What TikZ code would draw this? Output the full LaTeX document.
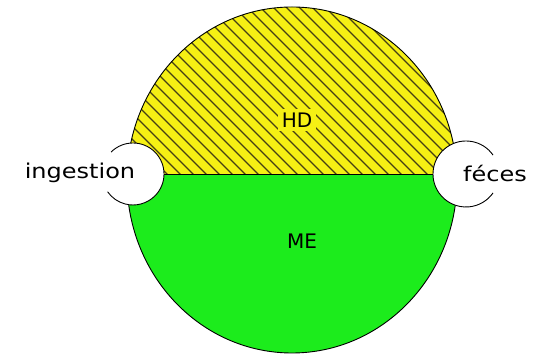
\documentclass[tikz,border=0pt]{standalone}
\usepackage{fontspec}
\setmainfont{DejaVu Sans}
\definecolor{hdyellow}{RGB}{245,240,20}
\definecolor{megreen}{RGB}{28,236,28}
\definecolor{hatchc}{RGB}{70,64,20}
\tikzset{
  smallc/.style={circle, fill=white, minimum size=#1, inner sep=0pt, outer sep=0pt},
  rimline/.style={draw=black, line width=0.9pt},
  hatchline/.style={draw=hatchc, line width=1.2pt},
  lbl/.style={inner sep=0pt, font=\fontsize{24}{24}\selectfont},
  zone/.style={inner sep=4pt, font=\fontsize{20}{20}\selectfont}
}
\begin{document}
\begin{tikzpicture}[x=1pt,y=1pt]
\useasboundingbox (0,0) rectangle (533,358);
\coordinate (C) at (292,178);
% lower (green) part = whole disc first
\fill[megreen] (C) ellipse [x radius=165pt, y radius=173pt];
% upper (yellow hatched) part
\begin{scope}
  \clip (C) ellipse [x radius=165pt, y radius=173pt];
  \clip (100,184) rectangle (490,358);
  \fill[hdyellow] (100,184) rectangle (490,358);
  \foreach \i in {-100,-87,...,500} {
    \draw[hatchline] (\i,360) -- ++(200,-200);
  }
\end{scope}
\draw[rimline] (C) ellipse [x radius=165pt, y radius=173pt];
% zone labels
\node[zone, fill=hdyellow] (hd) at (297,238) {HD};
\node[zone, fill=megreen] (me) at (302,117) {ME};
% small circles
\node[smallc=62pt] (L) at (133,184) {};
\node[smallc=66pt] (R) at (466,184) {};
\draw[rimline] (L) -- (R);
\draw[rimline] (L.135) arc[start angle=135, end angle=-145, radius=31pt];
\draw[rimline] (R.35) arc[start angle=35, end angle=325, radius=33pt];
% texts
\node[lbl] (ing) at (80,185) {\scalebox{1.0}[0.85]{ingestion}};
\node[lbl] (fec) at (495,185) {\scalebox{1.0}[0.85]{féces}};
\end{tikzpicture}
\end{document}
